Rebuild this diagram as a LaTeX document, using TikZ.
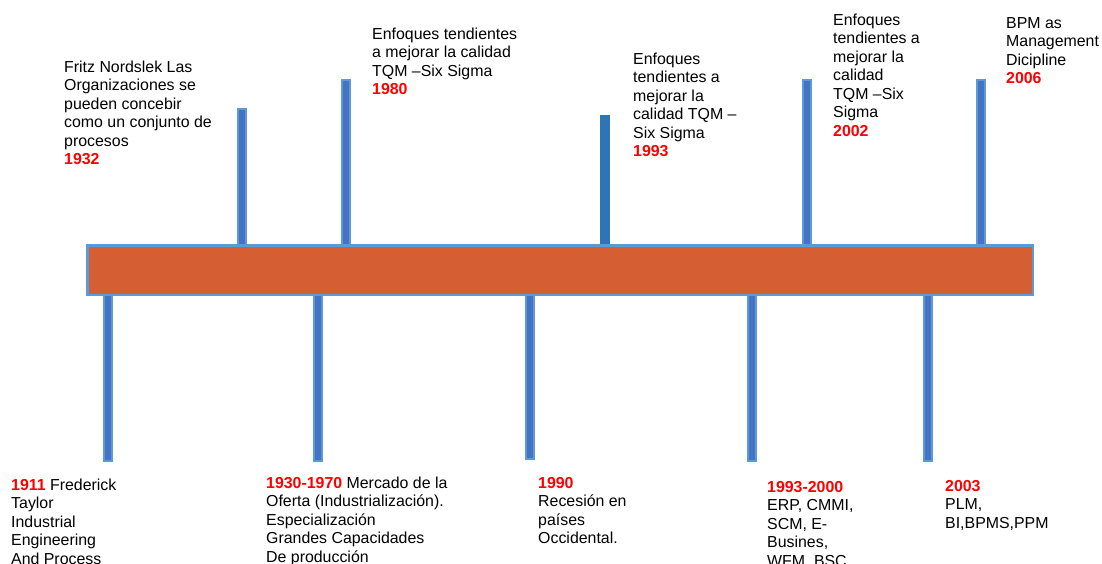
\documentclass[tikz,border=0pt]{standalone}
\usepackage{fontspec}
\setmainfont{Liberation Sans}
\definecolor{barfill}{RGB}{214,94,51}
\definecolor{edgeblue}{RGB}{91,155,213}
\definecolor{coreblue}{RGB}{68,114,196}
\definecolor{solidblue}{RGB}{46,117,182}
\definecolor{yearred}{RGB}{255,0,0}
\newcommand{\yr}[1]{\textcolor{yearred}{\bfseries #1}}
\newcommand{\fl}{\rule{0pt}{12pt}}
\begin{document}
\begin{tikzpicture}[x=1pt,y=-1pt,
  stembar/.style={draw=edgeblue,line width=2pt,double=coreblue,double distance=6pt,line cap=rect},
  stemsolid/.style={draw=solidblue,line width=10pt},
  timebar/.style={draw=edgeblue,line width=2.5pt,fill=barfill,minimum width=945.5pt,minimum height=49.5pt,inner sep=0pt},
  label/.style={anchor=north west,inner sep=0pt,align=left,
    font=\fontsize{15.9pt}{18.5pt}\selectfont}]
\path[use as bounding box,clip] (0,0) rectangle (1102,564);

% stem ends (upper ones at the tip, lower ones at the foot)
\coordinate (u1932) at (242,113);
\coordinate (u1980) at (346,84);
\coordinate (u1993) at (605,115);
\coordinate (u2002) at (807,84);
\coordinate (u2006) at (981,84);
\coordinate (d1911) at (108,457);
\coordinate (d1930) at (318,457);
\coordinate (d1990) at (530,455);
\coordinate (d2000) at (752,457);
\coordinate (d2003) at (928,457);

% the time bar
\node[timebar] (bar) at (560,270) {};

% stems above the bar
\draw[stembar] (u1932) -- (u1932 |- bar.north);
\draw[stembar] (u1980) -- (u1980 |- bar.north);
\draw[stemsolid] (u1993) -- (u1993 |- bar.north);
\draw[stembar] (u2002) -- (u2002 |- bar.north);
\draw[stembar] (u2006) -- (u2006 |- bar.north);

% stems below the bar
\draw[stembar] (d1911 |- bar.south) -- (d1911);
\draw[stembar] (d1930 |- bar.south) -- (d1930);
\draw[stembar] (d1990 |- bar.south) -- (d1990);
\draw[stembar] (d2000 |- bar.south) -- (d2000);
\draw[stembar] (d2003 |- bar.south) -- (d2003);

% bar drawn again over the stem roots
\node[timebar] at (bar.center) {};

% upper labels
\node[label] (t1932) at (64,60) {\fl Fritz Nordslek Las\\Organizaciones se\\pueden concebir\\como un conjunto de\\procesos\\\yr{1932}};
\node[label] (t1980) at (372,27) {\fl Enfoques tendientes\\a mejorar la calidad\\TQM –Six Sigma\\\yr{1980}};
\begin{scope}
\clip (620,40) rectangle (800,156.5);
\node[label] (t1993) at (633,52) {\fl Enfoques\\tendientes a\\mejorar la\\calidad TQM –\\Six Sigma\\\yr{1993}};
\end{scope}
\node[label] (t2002) at (833,13) {\fl Enfoques\\tendientes a\\mejorar la\\calidad\\TQM –Six\\Sigma\\\yr{2002}};
\node[label] (t2006) at (1006,16) {\fl BPM as\\Management\\Dicipline\\\yr{2006}};

% lower labels
\node[label] (b1911) at (11,478) {\fl\yr{1911} Frederick\\Taylor\\Industrial\\Engineering\\And Process};
\node[label] (b1930) at (266,476) {\fl\yr{1930-1970} Mercado de la\\Oferta (Industrialización).\\Especialización\\Grandes Capacidades\\De producción};
\node[label] (b1990) at (538,476) {\fl\yr{1990}\\Recesión en\\países\\Occidental.};
\node[label] (b2000) at (767,480) {\fl\yr{1993-2000}\\ERP, CMMI,\\SCM, E-\\Busines,\\WFM, BSC};
\node[label] (b2003) at (945,479) {\fl\yr{2003}\\PLM,\\BI,BPMS,PPM};
\end{tikzpicture}
\end{document}
